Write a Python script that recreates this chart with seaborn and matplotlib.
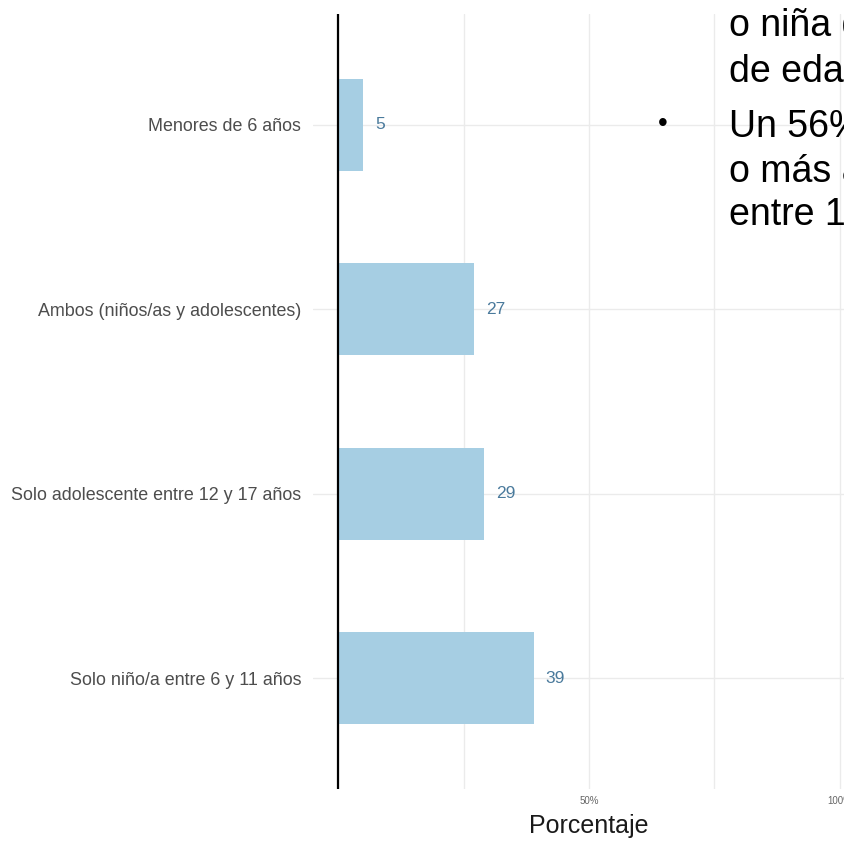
import seaborn as sns
import numpy as np
import matplotlib.pyplot as plt
import pandas as pd

# data
categorias = ["Menores de 6 años",
              "Ambos (niños/as y adolescentes)",
              "Solo adolescente entre 12 y 17 años",
              "Solo niño/a entre 6 y 11 años"]
porcentaje = [5, 27, 29, 39]

x_ticks = [0, 25, 50, 75, 100]
x_labels = ["", "", "50%", "", "100%"]

# slide text overlapping the chart (cut at the right edge)
texto_slide = ["o niña d", "de edad", "Un 56%", "o más a", "entre 1"]

df = pd.DataFrame({"categoria": categorias, "porcentaje": porcentaje})

sns.set_theme(style="whitegrid")
plt.rcParams['font.family'] = ['Liberation Sans', 'DejaVu Sans']

fig = plt.figure(figsize=(8.44, 8.41), dpi=100)
W, H = 844, 841
# panel runs from x=313 to 865 px (cropped at 844), y=14 to 789 px
ax = fig.add_axes([313 / W, 1 - 789 / H, (865 - 313) / W, (789 - 14) / H])

sns.barplot(data=df, x="porcentaje", y="categoria", order=categorias,
            color="#a6cee3", saturation=1, width=0.5, orient="h",
            linewidth=0, ax=ax)

for i, v in enumerate(porcentaje):
    ax.text(v + 2.4, i, f"{v}", va="center", ha="left",
            fontsize=12.5, color="#4a7a9c")

ax.axvline(0, color="black", lw=1.6, zorder=5)

ax.set_xlim(-5, 105)
ax.set_ylim(3.6, -0.6)
ax.set_xticks(x_ticks)
ax.set_xticklabels(x_labels, fontsize=7, color="#666666")
ax.tick_params(axis="x", pad=5, length=0)
ax.tick_params(axis="y", pad=8.5, length=0, labelsize=12.9, labelcolor="#4d4d4d")
ax.grid(True, color="#ebebeb", lw=1)
ax.set_axisbelow(True)
for s in ax.spines.values():
    s.set_visible(False)
ax.set_ylabel("")
ax.set_xlabel("Porcentaje", fontsize=18, color="#1a1a1a", labelpad=6)

# slide overlay text
baselines = [36, 82, 137, 182, 225]
for t, b in zip(texto_slide, baselines):
    fig.text(729 / W, 1 - b / H, t, fontsize=27, color="black",
             ha="left", va="baseline")
fig.text(663 / W, 1 - 124 / H, "•", fontsize=20, color="black",
         ha="center", va="center")

fig.savefig("out.png", dpi=100)
